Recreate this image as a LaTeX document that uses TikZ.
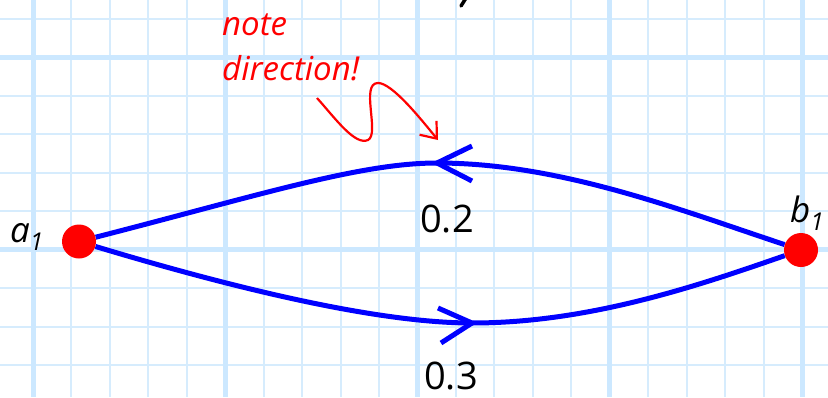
\documentclass[tikz,border=0pt]{standalone}
\usepackage{fontspec}
\setmainfont{Open Sans}
\usetikzlibrary{arrows.meta}
\definecolor{gridthin}{RGB}{214,236,253}
\definecolor{gridthick}{RGB}{204,232,255}
\definecolor{edgeblue}{RGB}{0,0,255}
\definecolor{notered}{RGB}{255,0,0}
\pgfdeclarelayer{gridlayer}
\pgfdeclarelayer{edgelayer}
\pgfsetlayers{gridlayer,edgelayer,main}
\begin{document}
\begin{tikzpicture}[x=1pt,y=-1pt,
  dot/.style={circle,fill=notered,minimum size=34pt,inner sep=0pt},
  edge/.style={draw=edgeblue,line width=5pt},
  arm/.style={draw=edgeblue,line width=5pt,line join=miter},
  gthin/.style={draw=gridthin,line width=2pt},
  gthick/.style={draw=gridthick,line width=5pt},
  vlabel/.style={inner sep=0pt,font=\fontsize{35}{40}\selectfont},
  weight/.style={inner sep=0pt,font=\fontsize{38}{44}\selectfont},
  notetext/.style={inner sep=0pt,text=notered,font=\fontsize{33}{38}\selectfont\itshape},
  notearrow/.style={draw=notered,line width=2.2pt,-{Straight Barb[length=14pt,width=22pt]}}]
\useasboundingbox (0,0) rectangle (828,397);
% grid
\begin{pgfonlayer}{gridlayer}
\fill[white] (0,0) rectangle (828,397);
\clip (0,0) rectangle (828,397);
\foreach \k in {-1,...,20} {\pgfmathsetmacro\xx{33+38.45*\k}\draw[gthin] (\xx,0) -- (\xx,397);}
\foreach \k in {-1,...,10} {\pgfmathsetmacro\yy{19+38.45*\k}\draw[gthin] (0,\yy) -- (828,\yy);}
\foreach \k in {0,5,10,15,20} {\pgfmathsetmacro\xx{33+38.45*\k}\draw[gthick] (\xx,0) -- (\xx,397);}
\foreach \k in {1,6} {\pgfmathsetmacro\yy{19+38.45*\k}\draw[gthick] (0,\yy) -- (828,\yy);}
\end{pgfonlayer}
% vertices
\node[dot] (a1) at (79,241.5) {};
\node[dot] (b1) at (801,250) {};
\node[vlabel,anchor=base west] (la) at (10,242) {\textit{a\textsubscript{1}}};
\node[vlabel,anchor=base west] (lb) at (790,222) {\textit{b\textsubscript{1}}};
% edges
\coordinate (top) at (437,163);
\coordinate (bot) at (472,323);
\begin{pgfonlayer}{edgelayer}
\draw[edge] (a1) .. controls (260,195) and (360,163) .. (top) .. controls (560,163) and (680,210) .. (b1);
\draw[edge] (a1) .. controls (240,290) and (380,323) .. (bot) .. controls (590,323) and (700,285) .. (b1);
\draw[arm] ([shift={(35,-17)}]top) -- (top) -- ([shift={(35,18)}]top);
\draw[arm] ([shift={(-34,-15)}]bot) -- (bot) -- ([shift={(-31,20)}]bot);
\end{pgfonlayer}
\node[weight,anchor=base] (w1) at (447,232) {0.2};
\node[weight,anchor=base] (w2) at (451,389) {0.3};
% note
\node[notetext,anchor=base west] (n1) at (222,35) {note};
\node[notetext,anchor=base west] (n2) at (222,80) {direction!};
\coordinate (s0) at (317,98);
\coordinate (s1) at (438,140);
\draw[notearrow] (s0) .. controls (335,118) and (355,146) .. (368,140) .. controls (380,134) and (360,83) .. (378,83) .. controls (392,83) and (420,118) .. (s1);
% cut-off stroke at top
\draw[line width=3.5pt,line cap=round] (466,-2) -- (461,6);
\end{tikzpicture}
\end{document}
